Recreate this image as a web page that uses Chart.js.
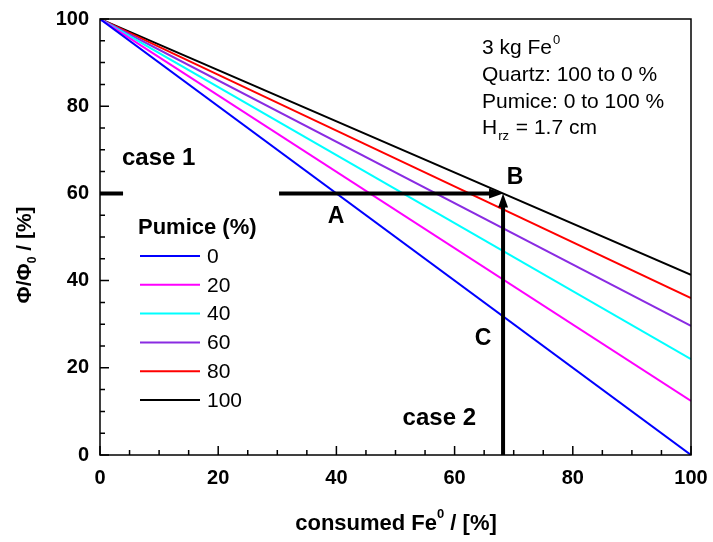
<!DOCTYPE html>
<html>
<head>
<meta charset="utf-8">
<script src="https://cdn.jsdelivr.net/npm/chart.js@4"></script>
<style>
  html, body { margin: 0; padding: 0; background: #fff; }
  #wrap { width: 713px; height: 542px; }
</style>
</head>
<body>
<div id="wrap"><canvas id="chart"></canvas></div>
<script>
// data: every line starts at (0, 100) and ends at x = 100
const pumice = ["0", "20", "40", "60", "80", "100"];
const startValue = 100;
const endValues = [0, 12.4, 22, 29.6, 36, 41.3];
const colors = ["#0000ff", "#ff00ff", "#00ffff", "#8a2be2", "#ff0000", "#000000"];
const xTicks = [0, 20, 40, 60, 80, 100];
const yTicks = [0, 20, 40, 60, 80, 100];

// construction lines (data coords)
const case1Stub = [0, 3.9];
const case1Arrow = [30.3, 68.2];
const case2X = 68.2;
const levelY = 60;

const FONT = "'Liberation Sans', Arial, sans-serif";

const decorations = {
  id: "decorations",
  afterDraw(chart) {
    const ctx = chart.ctx;
    const a = chart.chartArea;
    const xs = chart.scales.x, ys = chart.scales.y;
    ctx.save();

    // frame
    ctx.strokeStyle = "#000";
    ctx.lineWidth = 1.5;
    ctx.strokeRect(a.left, a.top, a.right - a.left, a.bottom - a.top);

    // inward ticks
    for (let v = 0; v <= 100; v += 5) {
      const len = v % 20 === 0 ? 9 : 5;
      const px = xs.getPixelForValue(v);
      const py = ys.getPixelForValue(v);
      ctx.beginPath();
      ctx.moveTo(px, a.bottom); ctx.lineTo(px, a.bottom - len);
      ctx.moveTo(a.left, py); ctx.lineTo(a.left + len, py);
      ctx.stroke();
    }

    // construction arrows
    const yL = ys.getPixelForValue(levelY);
    const xB = xs.getPixelForValue(case2X);
    ctx.lineWidth = 4;
    ctx.beginPath();
    ctx.moveTo(xs.getPixelForValue(case1Stub[0]), yL);
    ctx.lineTo(xs.getPixelForValue(case1Stub[1]), yL);
    ctx.moveTo(xs.getPixelForValue(case1Arrow[0]), yL);
    ctx.lineTo(xB - 10, yL);
    ctx.moveTo(xB, a.bottom);
    ctx.lineTo(xB, yL + 10);
    ctx.stroke();
    ctx.fillStyle = "#000";
    ctx.beginPath();
    ctx.moveTo(xB, yL); ctx.lineTo(xB - 14, yL - 5); ctx.lineTo(xB - 14, yL + 5); ctx.closePath();
    ctx.fill();
    ctx.beginPath();
    ctx.moveTo(xB, yL); ctx.lineTo(xB - 5, yL + 14); ctx.lineTo(xB + 5, yL + 14); ctx.closePath();
    ctx.fill();

    // point labels
    ctx.textAlign = "center";
    ctx.textBaseline = "middle";
    ctx.font = "bold 23px " + FONT;
    ctx.fillText("A", 336, 217);
    ctx.fillText("B", 515, 178);
    ctx.fillText("C", 483, 339);
    ctx.font = "bold 24px " + FONT;
    ctx.textAlign = "left";
    ctx.fillText("case 1", 122, 158);
    ctx.textAlign = "right";
    ctx.fillText("case 2", 476, 418);

    // info box
    ctx.textAlign = "left";
    ctx.textBaseline = "alphabetic";
    const F = "21px " + FONT, S = "13px " + FONT;
    ctx.font = F;
    let t = "3 kg Fe";
    ctx.fillText(t, 482, 54);
    let w = ctx.measureText(t).width;
    ctx.font = S;
    ctx.fillText("0", 482 + w + 1, 44);
    ctx.font = F;
    ctx.fillText("Quartz: 100 to 0 %", 482, 81);
    ctx.fillText("Pumice: 0 to 100 %", 482, 108);
    ctx.fillText("H", 482, 134);
    w = ctx.measureText("H").width;
    ctx.font = S;
    ctx.fillText("rz", 482 + w + 1, 140);
    const w2 = ctx.measureText("rz").width;
    ctx.font = F;
    ctx.fillText(" = 1.7 cm", 482 + w + w2 + 2, 134);

    // legend
    ctx.font = "bold 22px " + FONT;
    ctx.textBaseline = "middle";
    ctx.fillText("Pumice (%)", 138, 228);
    ctx.font = "21px " + FONT;
    pumice.forEach((p, i) => {
      const y = 256 + i * 28.8;
      ctx.strokeStyle = colors[i];
      ctx.lineWidth = 2;
      ctx.beginPath();
      ctx.moveTo(140, y); ctx.lineTo(200, y);
      ctx.stroke();
      ctx.fillStyle = "#000";
      ctx.fillText(p, 207, y + 1);
    });

    // axis titles
    ctx.font = "bold 22px " + FONT;
    ctx.textBaseline = "alphabetic";
    const xt1 = "consumed Fe", xt2 = " / [%]";
    const w1 = ctx.measureText(xt1).width;
    ctx.font = "bold 13px " + FONT;
    const ws = ctx.measureText("0").width;
    ctx.font = "bold 22px " + FONT;
    const wt = w1 + ws + ctx.measureText(xt2).width;
    let x0 = 396 - wt / 2;
    ctx.fillText(xt1, x0, 530);
    ctx.font = "bold 13px " + FONT;
    ctx.fillText("0", x0 + w1, 518);
    ctx.font = "bold 22px " + FONT;
    ctx.fillText(xt2, x0 + w1 + ws, 530);

    ctx.translate(31, 255);
    ctx.rotate(-Math.PI / 2);
    ctx.font = "bold 21px " + FONT;
    const ya = "\u03A6/\u03A6", yb = " / [%]";
    const wa = ctx.measureText(ya).width;
    ctx.font = "bold 12px " + FONT;
    const wsub = ctx.measureText("0").width;
    ctx.font = "bold 21px " + FONT;
    const wy = wa + wsub + ctx.measureText(yb).width;
    x0 = -wy / 2;
    ctx.fillText(ya, x0, 0);
    ctx.font = "bold 12px " + FONT;
    ctx.fillText("0", x0 + wa, 5);
    ctx.font = "bold 21px " + FONT;
    ctx.fillText(yb, x0 + wa + wsub, 0);

    ctx.restore();
  },
};

new Chart("chart", {
  type: "line",
  data: {
    datasets: pumice.map((p, i) => ({
      label: p,
      data: [{ x: 0, y: startValue }, { x: 100, y: endValues[i] }],
      borderColor: colors[i],
      borderWidth: 2,
      pointRadius: 0,
      fill: false,
    })),
  },
  options: {
    responsive: true,
    maintainAspectRatio: false,
    animation: false,
    layout: { padding: { left: 0, top: 19, right: 22, bottom: 0 } },
    plugins: { legend: { display: false }, tooltip: { enabled: false } },
    scales: {
      x: {
        type: "linear",
        min: 0,
        max: 100,
        afterFit: (s) => { s.height = 87; s.paddingLeft = 0; s.paddingRight = 0; },
        afterBuildTicks: (s) => { s.ticks = xTicks.map((v) => ({ value: v })); },
        grid: { display: false, drawTicks: false },
        border: { display: false },
        ticks: { padding: 11, color: "#000", font: { family: FONT, size: 20, weight: "bold" } },
      },
      y: {
        type: "linear",
        min: 0,
        max: 100,
        afterFit: (s) => { s.width = 100; s.paddingTop = 0; s.paddingBottom = 0; },
        afterBuildTicks: (s) => { s.ticks = yTicks.map((v) => ({ value: v })); },
        grid: { display: false, drawTicks: false },
        border: { display: false },
        ticks: { padding: 11, color: "#000", font: { family: FONT, size: 20, weight: "bold" } },
      },
    },
  },
  plugins: [decorations],
});
</script>
</body>
</html>
